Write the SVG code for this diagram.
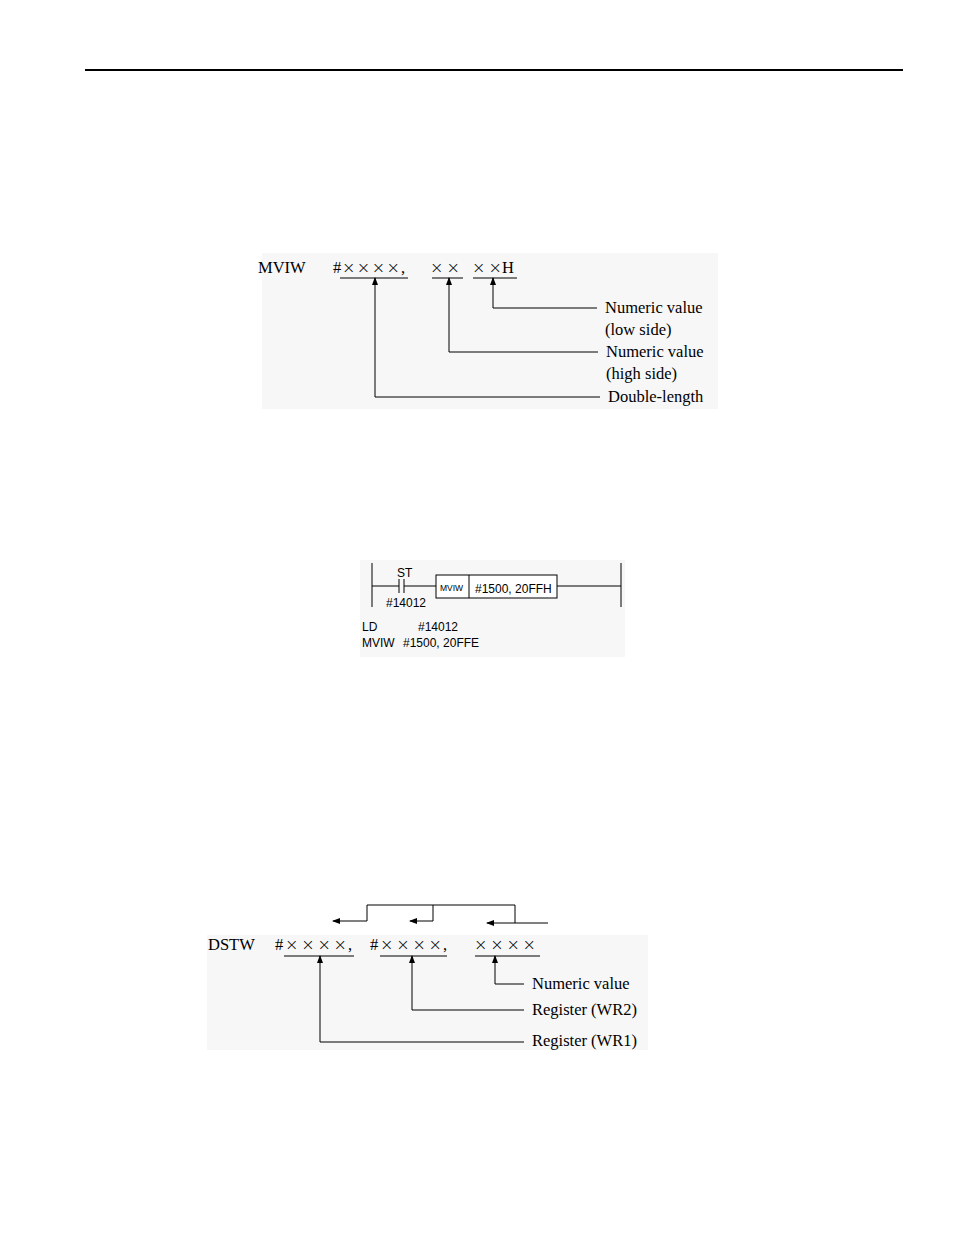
<svg xmlns="http://www.w3.org/2000/svg" width="954" height="1235" viewBox="0 0 954 1235">
<defs>
<marker id="ah" markerWidth="8" markerHeight="8" refX="7" refY="4" orient="auto" markerUnits="userSpaceOnUse"><path d="M0,1 L8,4 L0,7 Z" fill="#000"/></marker>
<style>
.s{font-family:"Liberation Serif",serif;font-size:16.5px;fill:#000}
.x{font-family:"DejaVu Sans",sans-serif;font-size:16px;font-weight:200;fill:#000}
.a{font-family:"Liberation Sans",sans-serif;font-size:12px;fill:#000}
.l{stroke:#000;stroke-width:1;fill:none}
.bg{fill:#f7f7f7}
</style>
</defs>
<rect width="954" height="1235" fill="#fff"/>
<line x1="85" y1="70" x2="903" y2="70" stroke="#000" stroke-width="2"/>
<rect class="bg" x="262" y="253" width="456" height="156"/>
<rect class="bg" x="360" y="560" width="265" height="97"/>
<rect class="bg" x="207" y="935" width="441" height="115"/>
<g id="fig1">
<text class="s" x="258" y="273">MVIW</text>
<text class="s" x="333" y="273">#</text>
<text class="x" x="342" y="273" textLength="58" lengthAdjust="spacing">××××</text>
<text class="s" x="401" y="273">,</text>
<text class="x" x="430" y="273" textLength="30" lengthAdjust="spacing">××</text>
<text class="x" x="472" y="273" textLength="30" lengthAdjust="spacing">××</text>
<text class="s" x="502" y="273">H</text>
<text class="s" x="605" y="313">Numeric value</text>
<text class="s" x="605" y="335">(low side)</text>
<text class="s" x="606" y="357">Numeric value</text>
<text class="s" x="606" y="379">(high side)</text>
<text class="s" x="608" y="402">Double-length</text>
</g>
<g id="fig2">
<text class="a" x="397" y="577">ST</text>
<text class="a" x="386" y="607">#14012</text>
<rect x="436" y="575" width="121" height="23" fill="#fff" stroke="#000"/>
<line class="l" x1="469" y1="575" x2="469" y2="598"/>
<text class="a" x="440" y="591" style="font-size:8.5px">MVIW</text>
<text class="a" x="475" y="593">#1500, 20FFH</text>
<text class="a" x="362" y="631">LD</text>
<text class="a" x="418" y="631">#14012</text>
<text class="a" x="362" y="647">MVIW</text>
<text class="a" x="403" y="647">#1500, 20FFE</text>
</g>
<g id="fig3">
<text class="s" x="208" y="950">DSTW</text>
<text class="s" x="275" y="950">#</text>
<text class="x" x="285" y="950" textLength="62" lengthAdjust="spacing">××××</text>
<text class="s" x="348" y="950">,</text>
<text class="s" x="370" y="950">#</text>
<text class="x" x="380" y="950" textLength="62" lengthAdjust="spacing">××××</text>
<text class="s" x="443" y="950">,</text>
<text class="x" x="474" y="950" textLength="62" lengthAdjust="spacing">××××</text>
<text class="s" x="532" y="989">Numeric value</text>
<text class="s" x="532" y="1015">Register (WR2)</text>
<text class="s" x="532" y="1046">Register (WR1)</text>
</g>
<g id="connectors">
<path class="l" d="M340,278H408M432,278H463M473,278H517"/>
<path class="l" d="M597,308H493V278" marker-end="url(#ah)"/>
<path class="l" d="M598,352H449V278" marker-end="url(#ah)"/>
<path class="l" d="M600,397H375V278" marker-end="url(#ah)"/>
<path class="l" d="M372,563V607M621,563V607M372,586H399M404,586H436M557,586H621"/>
<path class="l" d="M399,579V593M404,579V593"/>
<path class="l" d="M284,956H354M380,956H447M475,956H540"/>
<path class="l" d="M367,921V905H515V923M433,905V921"/>
<path class="l" d="M367,921H333" marker-end="url(#ah)"/>
<path class="l" d="M433,921H410" marker-end="url(#ah)"/>
<path class="l" d="M548,923H487" marker-end="url(#ah)"/>
<path class="l" d="M524,984H495V956" marker-end="url(#ah)"/>
<path class="l" d="M524,1010H412V956" marker-end="url(#ah)"/>
<path class="l" d="M524,1042H320V956" marker-end="url(#ah)"/>
</g>
</svg>
